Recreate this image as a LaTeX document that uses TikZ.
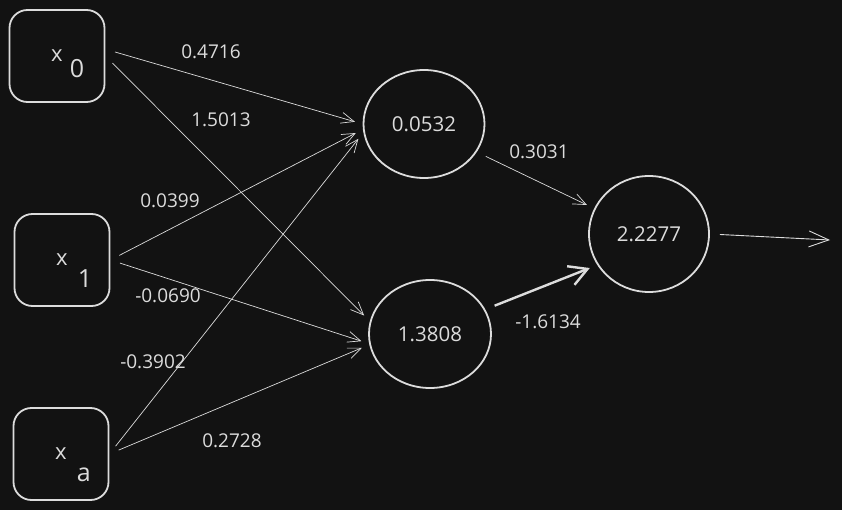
\documentclass[tikz,border=0pt]{standalone}
\usepackage{fontspec}
\setmainfont{Open Sans}
\usetikzlibrary{arrows.meta,shapes.geometric}
\definecolor{board}{HTML}{121212}
\definecolor{chalk}{HTML}{DCDCDC}
\tikzset{
  inbox/.style={draw=chalk,line width=1.8pt,rounded corners=18pt,minimum width=95pt,minimum height=92pt,inner sep=0pt,text=chalk,font=\fontsize{22}{26}\selectfont},
  neuron/.style={shape=ellipse,draw=chalk,line width=1.8pt,inner sep=0pt,text=chalk,font=\fontsize{20.5}{24}\selectfont},
  weight/.style={-{Straight Barb[length=13pt,width=11pt]},draw=chalk,line width=0.7pt,shorten <=10pt,shorten >=8pt},
  wlabel/.style={text=chalk,font=\fontsize{19}{22}\selectfont,inner sep=0pt}
}
\begin{document}
\begin{tikzpicture}[x=1pt,y=-1pt]
            \fill[board] (0,0) rectangle (842,510);
            \useasboundingbox (0,0) rectangle (842,510);
            % inputs
            \node[inbox] (X0) at (57,56) {x\rlap{\hspace{7pt}\smash{\raisebox{-16pt}{\fontsize{25}{28}\selectfont 0}}}};
            \node[inbox] (X1) at (62,260) {x\rlap{\hspace{10pt}\smash{\raisebox{-22pt}{\fontsize{25}{28}\selectfont 1}}}};
            \node[inbox] (X2) at (61,454) {x\rlap{\hspace{10pt}\smash{\raisebox{-22pt}{\fontsize{25}{28}\selectfont a}}}};
            % hidden layer and output
            \node[neuron,minimum width=121pt,minimum height=108pt] (H0) at (424,124) {0.0532};
            \node[neuron,minimum width=122pt,minimum height=108pt] (H1) at (430,334) {1.3808};
            \node[neuron,minimum width=120pt,minimum height=116pt] (O) at (649,234) {2.2277};
            \coordinate (Y) at (830,240);
            % weights
            \path (X0.8) edge[weight] (H0.west);
            \path (X0.east) edge[weight] (H1.168);
            \path (X1.east) edge[weight] (H0.185);
            \path (X1.east) edge[weight] (H1.189);
            \path (X2.east) edge[weight] (H0.188);
            \path (X2.east) edge[weight] (H1.190);
            \path (H0.-28) edge[weight] (O.155);
            \path (H1.24) edge[weight,line width=2.4pt,-{Straight Barb[length=18pt,width=20pt]}] (O.211);
            \path (O.east) edge[weight,line width=0.9pt,-{Straight Barb[length=20pt,width=16pt]},shorten >=0pt] (Y);
            % labels
            \node[wlabel] (L0) at (211,52) {0.4716};
            \node[wlabel] (L1) at (221,120) {1.5013};
            \node[wlabel] (L2) at (170,201) {0.0399};
            \node[wlabel] (L3) at (168,296) {-0.0690};
            \node[wlabel] (L4) at (153,362) {-0.3902};
            \node[wlabel] (L5) at (232,441) {0.2728};
            \node[wlabel] (L6) at (539,152) {0.3031};
            \node[wlabel] (L7) at (548,322) {-1.6134};
        \end{tikzpicture}
\end{document}
